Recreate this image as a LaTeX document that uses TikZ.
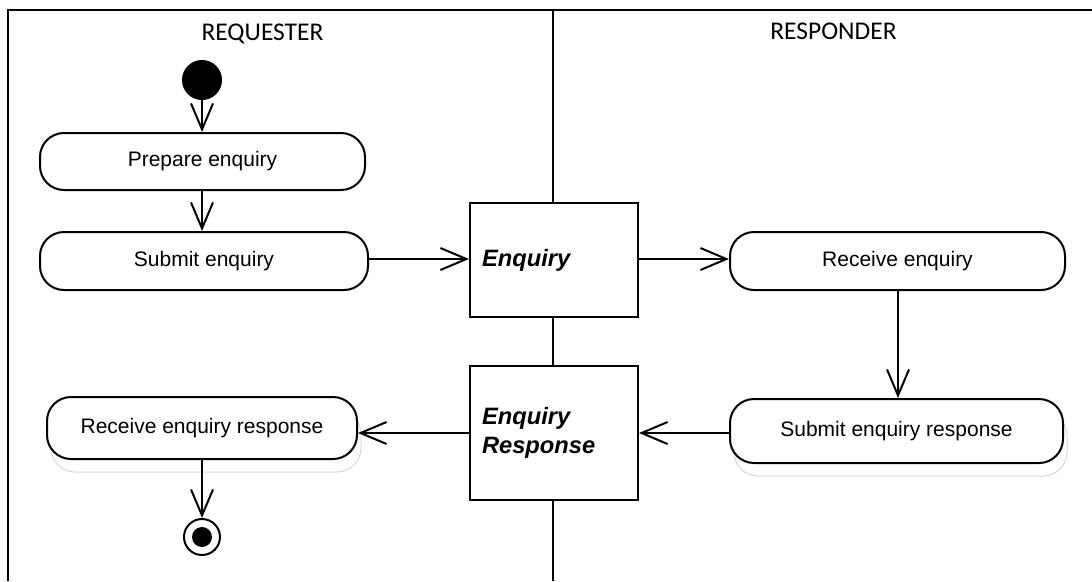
\documentclass[tikz,border=0pt]{standalone}
\usepackage{fontspec}
\setmainfont{Liberation Sans}
\newfontfamily\hdrfont{Carlito}
\usetikzlibrary{arrows.meta}
\begin{document}
\begin{tikzpicture}[x=1pt,y=-1pt,
  line width=2pt,
  act/.style={draw, fill=white, rounded corners=24pt, inner sep=0pt, font=\fontsize{21}{25}\selectfont},
  shadowbox/.style={draw=black!15, line width=1pt, fill=white, rounded corners=24pt},
  obj/.style={draw, fill=white, minimum width=168pt, inner xsep=12pt, inner ysep=0pt, text width=144pt, align=left, font=\fontsize{23.7}{29}\selectfont\bfseries\itshape},
  hdr/.style={font=\hdrfont\fontsize{25.5}{30}\selectfont, inner sep=0pt},
  flow/.style={-{Straight Barb[length=26pt,width=22pt]}}
]
\useasboundingbox (0,0) rectangle (1092,581);
% frame and lane divider
\draw[line width=2.5pt] (8,581) -- (8,10) -- (1092,10);
\coordinate (divtop) at (553,10);
\coordinate (divbot) at (553,581);
\draw (divtop) -- (divbot);
% headers
\node[hdr] (hreq) at (262.5,34) {REQUESTER};
\node[hdr] (hresp) at (833.5,31) {RESPONDER};
% shadows
\draw[shadowbox] (51,410) rectangle (361,472);
\draw[shadowbox] (734,412) rectangle (1067,476);
% nodes
\node[circle, fill=black, draw, line width=1pt, minimum size=39pt, inner sep=0pt] (start) at (202,80) {};
\node[act, minimum width=325pt, minimum height=57pt] (prep) at (202.5,161.5) {Prepare enquiry};
\node[act, minimum width=328pt, minimum height=58pt] (submit) at (204,261) {Submit enquiry};
\node[obj, minimum height=114pt] (enq) at (554,260) {Enquiry};
\node[obj, minimum height=134pt] (resp) at (554,433) {Enquiry\\Response};
\node[act, minimum width=335pt, minimum height=58pt] (recv) at (897.5,261) {Receive enquiry};
\node[act, minimum width=333pt, minimum height=64pt] (subresp) at (896.5,431) {Submit enquiry response};
\node[act, minimum width=310pt, minimum height=62pt] (recvresp) at (202,428) {Receive enquiry response};
\node[circle, draw, minimum size=36pt, inner sep=0pt] (end) at (202,537) {};
\node[circle, fill=black, minimum size=20pt, inner sep=0pt] (endin) at (end.center) {};
% connectors
\draw[flow] (start.south) -- (prep.north -| start.south);
\draw[flow] (prep.south -| start.south) -- (submit.north -| start.south);
\draw[flow] (submit.east |- 0,259) -- (enq.west |- 0,259);
\draw[flow] (enq.east |- 0,259) -- (recv.west |- 0,259);
\draw[flow] (recv.south -| 898,0) -- (subresp.north -| 898,0);
\draw[flow] (subresp.west |- 0,433) -- (resp.east |- 0,433);
\draw[flow] (resp.west |- 0,433) -- (recvresp.east |- 0,433);
\draw[flow] (recvresp.south) -- (end.north);
\end{tikzpicture}
\end{document}
